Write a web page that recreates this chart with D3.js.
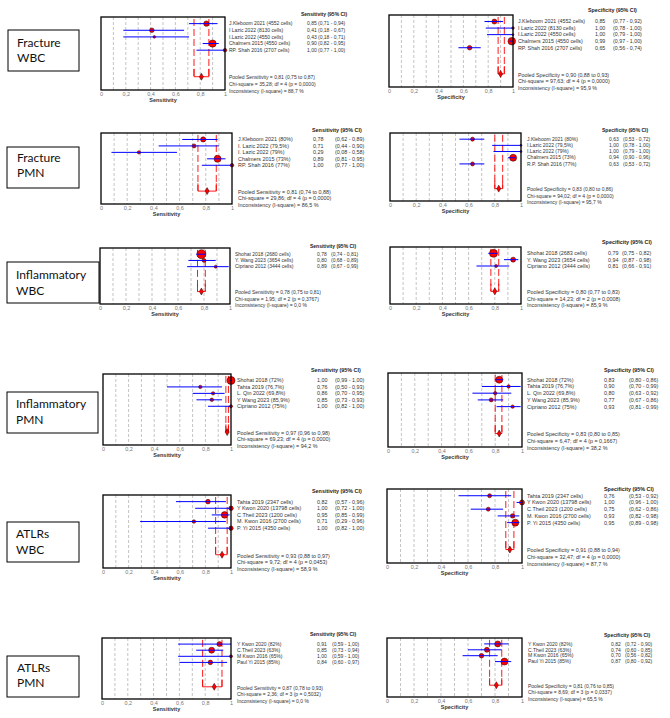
<!DOCTYPE html>
<html lang="en">
<head>
<meta charset="UTF-8">
<script src="https://d3js.org/d3.v7.min.js"></script>
<title>Forest plots - sensitivity and specificity</title>
<style>
  body { margin: 0; background: white; }
  svg { display: block; font-family: "Liberation Sans", Arial, sans-serif; }
</style>
</head>
<body>
<div id="chart"></div>
<script>
  // study rows: [label, estimate, lower, upper, marker weight]
  var fractureWbcSens = [
    ["J.Kleboom 2021 (4552 cells)", 0.85, 0.71, 0.94, 2.7],
    ["I Lazic 2022 (8130 cells)", 0.41, 0.18, 0.67, 2.3],
    ["I.Lazic 2022 (4550 cells)", 0.43, 0.18, 0.71, 1.3],
    ["Chalmers 2015 (4550 cells)", 0.90, 0.82, 0.95, 3.6],
    ["RP. Shah 2016 (2707 cells)", 1.00, 0.77, 1.00, 1.8]
  ];
  var fractureWbcSpec = [
    ["J.Kleboom 2021 (4552 cells)", 0.85, 0.77, 0.92, 2.5],
    ["I Lazic 2022 (8130 cells)", 1.00, 0.78, 1.00, 1.3],
    ["I.Lazic 2022 (4550 cells)", 1.00, 0.79, 1.00, 1.0],
    ["Chalmers 2015 (4550 cells)", 0.99, 0.97, 1.00, 3.8],
    ["RP. Shah 2016 (2707 cells)", 0.65, 0.56, 0.74, 2.3]
  ];
  var fracturePmnSens = [
    ["J.Kleboom 2021 (80%)", 0.78, 0.62, 0.89, 2.6],
    ["I. Lazic 2022 (79,5%)", 0.71, 0.44, 0.90, 2.0],
    ["I. Lazic 2022 (79%)", 0.29, 0.08, 0.58, 1.7],
    ["Chalmers 2015 (73%)", 0.89, 0.81, 0.95, 3.5],
    ["RP. Shah 2016 (77%)", 1.00, 0.77, 1.00, 1.8]
  ];
  var fracturePmnSpec = [
    ["J.Kleboom 2021 (80%)", 0.63, 0.53, 0.72, 2.0],
    ["I.Lazic 2022 (79,5%)", 1.00, 0.78, 1.00, 1.0],
    ["I.Lazic 2022 (79%)", 1.00, 0.79, 1.00, 1.0],
    ["Chalmers 2015 (73%)", 0.94, 0.90, 0.96, 3.5],
    ["R.P. Shah 2016 (77%)", 0.63, 0.53, 0.72, 2.0]
  ];
  var inflamWbcSens = [
    ["Shohat 2018 (2680 cells)", 0.78, 0.74, 0.81, 4.5],
    ["Y. Wang 2023 (3654 cells)", 0.80, 0.68, 0.89, 2.0],
    ["Cipriano 2012 (3444 cells)", 0.89, 0.67, 0.99, 1.5]
  ];
  var inflamWbcSpec = [
    ["Shohat 2018 (2683 cells)", 0.79, 0.75, 0.82, 4.0],
    ["Y. Wang 2023 (3654 cells)", 0.94, 0.87, 0.98, 2.5],
    ["Cipriano 2012 (3444 cells)", 0.81, 0.66, 0.91, 1.5]
  ];
  var inflamPmnSens = [
    ["Shohat 2018 (72%)", 1.00, 0.99, 1.00, 4.0],
    ["Tahta 2019 (76,7%)", 0.76, 0.50, 0.93, 1.7],
    ["L. Qin 2022 (69,8%)", 0.86, 0.70, 0.95, 1.7],
    ["Y Wang 2023 (85,9%)", 0.85, 0.73, 0.93, 1.8],
    ["Cipriano 2012 (75%)", 1.00, 0.82, 1.00, 1.5]
  ];
  var inflamPmnSpec = [
    ["Shohat 2018 (72%)", 0.83, 0.80, 0.86, 3.5],
    ["Tahta 2019 (76,7%)", 0.90, 0.70, 0.99, 1.7],
    ["L. Qin 2022 (69,8%)", 0.80, 0.63, 0.92, 1.7],
    ["Y Wang 2023 (85,9%)", 0.77, 0.67, 0.86, 2.0],
    ["Cipriano 2012 (75%)", 0.93, 0.81, 0.99, 1.7]
  ];
  var atlrWbcSens = [
    ["Tahta 2019 (2347 cells)", 0.82, 0.57, 0.96, 2.3],
    ["Y Kwon 2020 (13798 cells)", 1.00, 0.72, 1.00, 2.3],
    ["C.Theil 2023 (1200 cells)", 0.95, 0.85, 0.99, 3.3],
    ["M. Kwon 2016 (2700 cells)", 0.71, 0.29, 0.96, 1.8],
    ["P. Yi 2015 (4350 cells)", 1.00, 0.82, 1.00, 2.2]
  ];
  var atlrWbcSpec = [
    ["Tahta 2019 (2347 cells)", 0.76, 0.53, 0.92, 2.0],
    ["Y Kwon 2020 (13798 cells)", 1.00, 0.96, 1.00, 2.5],
    ["C.Theil 2023 (1200 cells)", 0.75, 0.62, 0.86, 2.0],
    ["M. Kwon 2016 (2700 cells)", 0.93, 0.82, 0.98, 2.2],
    ["P. Yi 2015 (4350 cells)", 0.95, 0.89, 0.98, 3.5]
  ];
  var atlrPmnSens = [
    ["Y Kwon 2020 (82%)", 0.91, 0.59, 1.00, 2.5],
    ["C.Theil 2023 (63%)", 0.85, 0.73, 0.94, 3.0],
    ["M Kwon 2016 (65%)", 1.00, 0.59, 1.00, 1.5],
    ["Paul Yi 2015 (85%)", 0.84, 0.60, 0.97, 2.3]
  ];
  var atlrPmnSpec = [
    ["Y Kwon 2020 (82%)", 0.82, 0.72, 0.90, 3.0],
    ["C.Theil 2023 (63%)", 0.74, 0.60, 0.85, 2.5],
    ["M Kwon 2016 (65%)", 0.70, 0.56, 0.82, 2.3],
    ["Paul Yi 2015 (85%)", 0.87, 0.80, 0.92, 3.5]
  ];

  // pooled: [estimate, lower, upper, chi-square, df, p, I-square]
  var fractureWbcSensPooled = [0.81, 0.75, 0.87, 35.28, 4, 0.0000, 88.7];
  var fractureWbcSpecPooled = [0.90, 0.88, 0.93, 97.63, 4, 0.0000, 95.9];
  var fracturePmnSensPooled = [0.81, 0.74, 0.88, 29.86, 4, 0.0000, 86.5];
  var fracturePmnSpecPooled = [0.83, 0.80, 0.86, 94.02, 4, 0.0000, 95.7];
  var inflamWbcSensPooled = [0.78, 0.75, 0.81, 1.95, 2, 0.3767, 0.0];
  var inflamWbcSpecPooled = [0.80, 0.77, 0.83, 14.23, 2, 0.0008, 85.9];
  var inflamPmnSensPooled = [0.97, 0.96, 0.98, 69.23, 4, 0.0000, 94.2];
  var inflamPmnSpecPooled = [0.83, 0.80, 0.85, 6.47, 4, 0.1667, 38.2];
  var atlrWbcSensPooled = [0.93, 0.88, 0.97, 9.72, 4, 0.0453, 58.9];
  var atlrWbcSpecPooled = [0.91, 0.88, 0.94, 32.47, 4, 0.0000, 87.7];
  var atlrPmnSensPooled = [0.87, 0.78, 0.93, 2.36, 3, 0.5032, 0.0];
  var atlrPmnSpecPooled = [0.81, 0.76, 0.85, 8.69, 3, 0.0337, 65.5];

  var groupLabels = [["Fracture", "WBC"], ["Fracture", "PMN"], ["Inflammatory", "WBC"],
                     ["Inflammatory", "PMN"], ["ATLRs", "WBC"], ["ATLRs", "PMN"]];
  var tickValues = [0, 0.2, 0.4, 0.6, 0.8, 1];
  var gridValues = [0.1, 0.2, 0.3, 0.4, 0.5, 0.6, 0.7, 0.8, 0.9];

  // where each row of the figure sits on the page
  var rowsLayout = [
    { box: [8, 30, 79, 71], lines: [43, 58], tx: 17,
      L: { d: fractureWbcSens, p: fractureWbcSensPooled, x: [101, 225], y: [17, 90], name: 229, val: 307, ci: 318, hx: 301, hy: 14, fs: 5 },
      R: { d: fractureWbcSpec, p: fractureWbcSpecPooled, x: [389, 513], y: [15, 87], name: 518, val: 595, ci: 613, hx: 588, hy: 10, fs: 5.3 } },
    { box: [7, 147, 79, 188], lines: [158, 173], tx: 17,
      L: { d: fracturePmnSens, p: fracturePmnSensPooled, x: [101, 232], y: [133, 204], name: 238, val: 313, ci: 335, hx: 312, hy: 130, fs: 5.4 },
      R: { d: fracturePmnSpec, p: fracturePmnSpecPooled, x: [390, 521], y: [133, 201], name: 527, val: 609, ci: 623, hx: 602, hy: 130, fs: 5 } },
    { box: [7, 262, 99, 303], lines: [275, 291], tx: 16,
      L: { d: inflamWbcSens, p: inflamWbcSensPooled, x: [100, 230], y: [248, 304], name: 235, val: 317, ci: 331, hx: 310, hy: 246, fs: 5 },
      R: { d: inflamWbcSpec, p: inflamWbcSpecPooled, x: [390, 521], y: [247, 304], name: 527, val: 608, ci: 622, hx: 602, hy: 242, fs: 5.4 } },
    { box: [7, 392, 98, 433], lines: [404, 420], tx: 16,
      L: { d: inflamPmnSens, p: inflamPmnSensPooled, x: [103, 231], y: [374, 445], name: 237, val: 317, ci: 335, hx: 311, hy: 370, fs: 5.4 },
      R: { d: inflamPmnSpec, p: inflamPmnSpecPooled, x: [388, 522], y: [373, 447], name: 527, val: 604, ci: 629, hx: 604, hy: 370, fs: 5.4 } },
    { box: [7, 522, 79, 562], lines: [534, 550], tx: 16,
      L: { d: atlrWbcSens, p: atlrWbcSensPooled, x: [103, 231], y: [495, 568], name: 237, val: 317, ci: 335, hx: 312, hy: 491, fs: 5.4 },
      R: { d: atlrWbcSpec, p: atlrWbcSpecPooled, x: [387, 522], y: [489, 563], name: 527, val: 604, ci: 629, hx: 604, hy: 489, fs: 5.4 } },
    { box: [7, 656, 79, 697], lines: [668, 683], tx: 17,
      L: { d: atlrPmnSens, p: atlrPmnSensPooled, x: [102, 231], y: [638, 699], name: 237, val: 317, ci: 332, hx: 310, hy: 634, fs: 5 },
      R: { d: atlrPmnSpec, p: atlrPmnSpecPooled, x: [387, 522], y: [638, 697], name: 528, val: 611, ci: 625, hx: 604, hy: 635, fs: 5 } }
  ];

  var comma = function (f) { return function (v) { return d3.format(f)(v).replace(".", ","); }; };
  var f2 = comma(".2f"), f4 = comma(".4f"), f1 = comma(".1f");
  var tickFmt = function (v) { return v === 0 || v === 1 ? String(v) : comma(".1f")(v); };

  var svg = d3.select("#chart").append("svg")
    .attr("width", 670)
    .attr("height", 718);

  function drawForest(cfg, kind) {
    var n = cfg.d.length;
    var x = d3.scaleLinear().domain([0, 1]).range(cfg.x);
    // rows 1..n are studies, row n+4 is the pooled estimate
    var y = d3.scaleLinear().domain([0, n + 6]).range(cfg.y);
    var g = svg.append("g");

    // dashed grid
    g.selectAll(".grid").data(gridValues).enter().append("line")
      .attr("x1", d => x(d)).attr("x2", d => x(d))
      .attr("y1", cfg.y[0]).attr("y2", cfg.y[1])
      .attr("stroke", "#aaa").attr("stroke-width", 0.7)
      .attr("stroke-dasharray", "3,2");

    // pooled CI lines
    var p = cfg.p;
    g.selectAll(".pool").data([p[1], p[2]]).enter().append("line")
      .attr("x1", d => x(d)).attr("x2", d => x(d))
      .attr("y1", y(0.3)).attr("y2", y(n + 4))
      .attr("stroke", "#f00").attr("stroke-width", 0.9)
      .attr("stroke-dasharray", "7,3");
    g.append("line")
      .attr("x1", x(p[1])).attr("x2", x(p[2]))
      .attr("y1", y(n + 4)).attr("y2", y(n + 4))
      .attr("stroke", "#f00").attr("stroke-width", 0.9);
    g.selectAll(".poolv").data([p[1], p[2]]).enter().append("line")
      .attr("x1", d => x(d)).attr("x2", d => x(d))
      .attr("y1", y(n + 2.8)).attr("y2", y(n + 4))
      .attr("stroke", "#f00").attr("stroke-width", 0.9);
    g.append("path")
      .attr("d", d3.symbol().type(d3.symbolDiamond).size(14)())
      .attr("transform", "translate(" + x(p[0]) + "," + y(n + 4) + ")")
      .attr("fill", "#f00").attr("stroke", "#200").attr("stroke-width", 0.5);

    // study markers and CI lines
    g.selectAll(".pt").data(cfg.d).enter().append("circle")
      .attr("cx", d => x(d[1])).attr("cy", (d, i) => y(i + 1))
      .attr("r", d => d[4])
      .attr("fill", "#f00").attr("stroke", "#200").attr("stroke-width", 0.5);
    g.selectAll(".ci").data(cfg.d).enter().append("line")
      .attr("x1", d => x(d[2])).attr("x2", d => x(d[3]))
      .attr("y1", (d, i) => y(i + 1)).attr("y2", (d, i) => y(i + 1))
      .attr("stroke", "#00f").attr("stroke-width", 1);

    // frame
    g.append("rect")
      .attr("x", cfg.x[0]).attr("y", cfg.y[0])
      .attr("width", cfg.x[1] - cfg.x[0]).attr("height", cfg.y[1] - cfg.y[0])
      .attr("fill", "none").attr("stroke", "#000").attr("stroke-width", 1.3);

    // x axis
    var ax = g.append("g")
      .attr("transform", "translate(0," + (cfg.y[1] + 1) + ")")
      .call(d3.axisBottom(x).tickValues(tickValues).tickSize(0).tickPadding(1).tickFormat(tickFmt));
    ax.select(".domain").remove();
    ax.selectAll("text").attr("font-size", 5.5).attr("fill", "#777")
      .attr("font-family", "Liberation Sans, Arial, sans-serif");
    g.append("text")
      .attr("x", (cfg.x[0] + cfg.x[1]) / 2).attr("y", cfg.y[1] + 12)
      .attr("text-anchor", "middle").attr("font-size", 5.5).attr("font-weight", "bold")
      .attr("fill", "#333").text(kind);

    // text table
    g.append("text")
      .attr("x", cfg.hx).attr("y", cfg.hy).attr("dy", "0.35em")
      .attr("font-size", cfg.fs).attr("font-weight", "bold").attr("fill", "#222")
      .text(kind + " (95% CI)");
    var rows = g.selectAll(".row").data(cfg.d).enter().append("g")
      .attr("font-size", cfg.fs).attr("fill", "#333");
    rows.append("text").attr("x", cfg.name).attr("y", (d, i) => y(i + 1)).attr("dy", "0.35em").text(d => d[0]);
    rows.append("text").attr("x", cfg.val).attr("y", (d, i) => y(i + 1)).attr("dy", "0.35em").text(d => f2(d[1]));
    rows.append("text").attr("x", cfg.ci).attr("y", (d, i) => y(i + 1)).attr("dy", "0.35em")
      .text(d => "(" + f2(d[2]) + " - " + f2(d[3]) + ")");

    var step = y(1) - y(0);
    var poolLines = [
      "Pooled " + kind + " = " + f2(p[0]) + " (" + f2(p[1]) + " to " + f2(p[2]) + ")",
      "Chi-square = " + f2(p[3]) + "; df = " + p[4] + " (p = " + f4(p[5]) + ")",
      "Inconsistency (I-square) = " + f1(p[6]) + " %"
    ];
    g.selectAll(".pl").data(poolLines).enter().append("text")
      .attr("x", cfg.name).attr("y", (d, i) => y(n + 4) + 1 + i * Math.max(step, 6.5))
      .attr("dy", "0.35em").attr("font-size", cfg.fs).attr("fill", "#333")
      .text(d => d);
  }

  rowsLayout.forEach(function (row, k) {
    var b = row.box;
    svg.append("rect")
      .attr("x", b[0]).attr("y", b[1])
      .attr("width", b[2] - b[0]).attr("height", b[3] - b[1])
      .attr("fill", "white").attr("stroke", "#000").attr("stroke-width", 1);
    svg.selectAll(".lab" + k).data(groupLabels[k]).enter().append("text")
      .attr("x", row.tx).attr("y", (d, i) => row.lines[i]).attr("dy", "0.35em")
      .attr("font-family", "Lato, 'Open Sans', sans-serif").attr("font-size", 12)
      .attr("fill", "#111").text(d => d);
    drawForest(row.L, "Sensitivity");
    drawForest(row.R, "Specificity");
  });
</script>
</body>
</html>
